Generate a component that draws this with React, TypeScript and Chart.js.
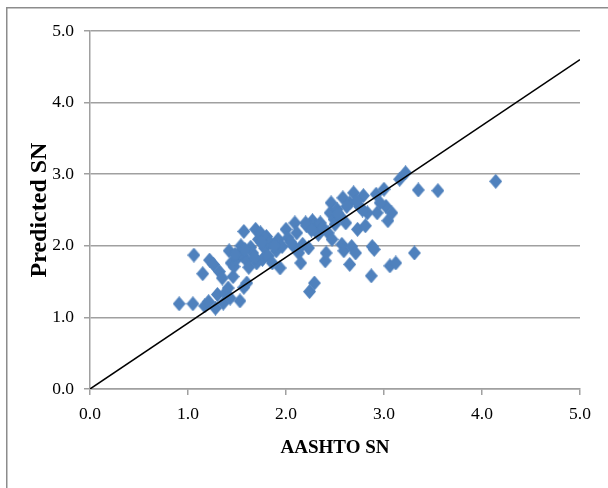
import React, { useEffect, useRef } from "react";
import { Chart, registerables } from "chart.js";

Chart.register(...registerables);

const aashtoSN: number[] = [
  0.91, 1.06, 1.05, 1.15, 1.17, 1.21, 1.22, 1.26, 1.28, 1.30, 1.32, 1.35, 1.36, 1.38, 1.41, 1.42, 1.43,
  1.44, 1.46, 1.47, 1.50, 1.52, 1.53, 1.54, 1.56, 1.57, 1.57, 1.60, 1.60, 1.62, 1.64, 1.66, 1.69, 1.70,
  1.72, 1.74, 1.76, 1.78, 1.80, 1.82, 1.84, 1.86, 1.90, 1.92, 1.94, 1.96, 2.00, 2.02, 2.08, 2.09, 2.11,
  2.13, 2.15, 2.17, 2.21, 2.23, 2.24, 2.27, 2.29, 2.31, 2.33, 2.35, 2.40, 2.41, 2.43, 2.45, 2.46, 2.47,
  2.49, 2.52, 2.55, 2.57, 2.58, 2.59, 2.61, 2.65, 2.65, 2.67, 2.69, 2.71, 2.73, 2.75, 2.79, 2.81, 2.83,
  2.87, 2.88, 2.90, 2.92, 2.93, 3.00, 3.02, 3.04, 3.06, 3.08, 3.12, 3.16, 3.22, 3.31, 3.35, 3.55, 4.14,
  1.48, 1.58, 1.68, 1.75, 1.88, 2.05, 2.20, 2.26, 2.38, 2.50, 2.53, 2.62, 2.72, 2.78, 2.96,
];

const predictedSN: number[] = [
  1.19, 1.87, 1.19, 1.61, 1.16, 1.22, 1.80, 1.74, 1.13, 1.32, 1.64, 1.55, 1.20, 1.34, 1.41, 1.93, 1.27,
  1.76, 1.57, 1.71, 1.82, 1.90, 1.23, 2.00, 1.86, 2.20, 1.42, 1.48, 1.79, 1.70, 1.98, 1.90, 2.23, 1.76,
  2.09, 2.18, 1.81, 1.97, 2.13, 1.86, 2.04, 1.76, 1.93, 2.09, 1.69, 1.99, 2.23, 2.11, 1.99, 2.32, 2.18,
  1.90, 1.76, 2.02, 2.28, 1.97, 1.36, 2.35, 1.48, 2.23, 2.16, 2.32, 1.79, 1.90, 2.18, 2.46, 2.60, 2.09,
  2.37, 2.51, 2.42, 2.02, 2.67, 1.93, 2.32, 1.74, 2.60, 1.99, 2.74, 1.90, 2.23, 2.55, 2.70, 2.28, 2.46,
  1.58, 1.99, 1.95, 2.72, 2.46, 2.79, 2.55, 2.35, 1.72, 2.46, 1.76, 2.93, 3.02, 1.90, 2.78, 2.77, 2.90,
  1.88, 1.95, 1.84, 2.05, 2.00, 2.05, 2.32, 2.22, 2.25, 2.30, 2.45, 2.55, 2.62, 2.50, 2.60,
];

const lineX: number[] = [0, 5];
const lineY: number[] = [0, 4.6];

const xTitle = "AASHTO SN";
const yTitle = "Predicted SN";

const framePlugin = {
  id: "frame",
  beforeDraw(chart: any) {
    const ctx = chart.ctx;
    ctx.save();
    ctx.fillStyle = "#ffffff";
    ctx.fillRect(0, 0, chart.width, chart.height);
    ctx.strokeStyle = "#8c8c8c";
    ctx.lineWidth = 1.5;
    ctx.beginPath();
    ctx.moveTo(6.75, chart.height + 5);
    ctx.lineTo(6.75, 7.75);
    ctx.lineTo(chart.width + 5, 7.75);
    ctx.stroke();
    ctx.restore();
  },
};

function makeDiamond(): HTMLCanvasElement {
  const c = document.createElement("canvas");
  c.width = 13;
  c.height = 15;
  const g = c.getContext("2d")!;
  g.fillStyle = "#4F81BD";
  g.beginPath();
  g.moveTo(6.5, 0);
  g.lineTo(13, 7.5);
  g.lineTo(6.5, 15);
  g.lineTo(0, 7.5);
  g.closePath();
  g.fill();
  return c;
}

export default function App() {
  const ref = useRef<HTMLCanvasElement | null>(null);

  useEffect(() => {
    if (!ref.current) return;
    const diamond = makeDiamond();
    const tickFont = { family: "'Liberation Serif', 'Times New Roman', serif", size: 17.5 };
    const chart = new Chart(ref.current, {
      type: "scatter",
      data: {
        datasets: [
          {
            type: "line",
            data: lineX.map((x, i) => ({ x, y: lineY[i] })),
            borderColor: "#000000",
            borderWidth: 1.5,
            pointRadius: 0,
            fill: false,
          } as any,
          {
            type: "scatter",
            data: aashtoSN.map((x, i) => ({ x, y: predictedSN[i] })),
            pointStyle: diamond as any,
            backgroundColor: "#4F81BD",
            borderColor: "#4F81BD",
            pointRadius: 6,
          } as any,
        ],
      },
      options: {
        animation: false,
        responsive: false,
        devicePixelRatio: 1,
        layout: { padding: { left: 0, right: 28, top: 31, bottom: 0 } },
        plugins: {
          legend: { display: false },
          tooltip: { enabled: false },
        },
        scales: {
          x: {
            type: "linear",
            min: 0,
            max: 5,
            afterFit: (s: any) => {
              s.height = 99;
            },
            ticks: {
              stepSize: 1,
              padding: 9,
              color: "#000000",
              font: tickFont,
              callback: (v: any) => Number(v).toFixed(1),
            },
            grid: {
              drawOnChartArea: false,
              drawTicks: true,
              tickLength: 6,
              color: "#a0a0a0",
              lineWidth: 1.5,
            },
            border: { display: true, color: "#a0a0a0", width: 1.5 },
            title: {
              display: true,
              text: xTitle,
              color: "#000000",
              font: { family: "'Liberation Serif', 'Times New Roman', serif", size: 19, weight: "bold" },
              padding: { top: 0, bottom: 29 },
            },
          },
          y: {
            type: "linear",
            min: 0,
            max: 5,
            afterFit: (s: any) => {
              s.width = 90;
            },
            ticks: {
              stepSize: 1,
              padding: 10,
              color: "#000000",
              font: tickFont,
              callback: (v: any) => Number(v).toFixed(1),
            },
            grid: {
              drawOnChartArea: true,
              drawTicks: true,
              tickLength: 6,
              color: "#a0a0a0",
              lineWidth: 1.5,
            },
            border: { display: true, color: "#a0a0a0", width: 1.5 },
            title: {
              display: true,
              text: yTitle,
              color: "#000000",
              font: { family: "'Liberation Serif', 'Times New Roman', serif", size: 24, weight: "bold" },
              padding: { top: 25, bottom: 0 },
            },
          },
        },
      },
      plugins: [framePlugin],
    });
    return () => chart.destroy();
  }, []);

  return (
    <div style={{ position: "absolute", left: 0, top: 0, width: 608, height: 488, background: "#fff" }}>
      <canvas ref={ref} width={608} height={488} style={{ display: "block", width: 608, height: 488 }} />
    </div>
  );
}
